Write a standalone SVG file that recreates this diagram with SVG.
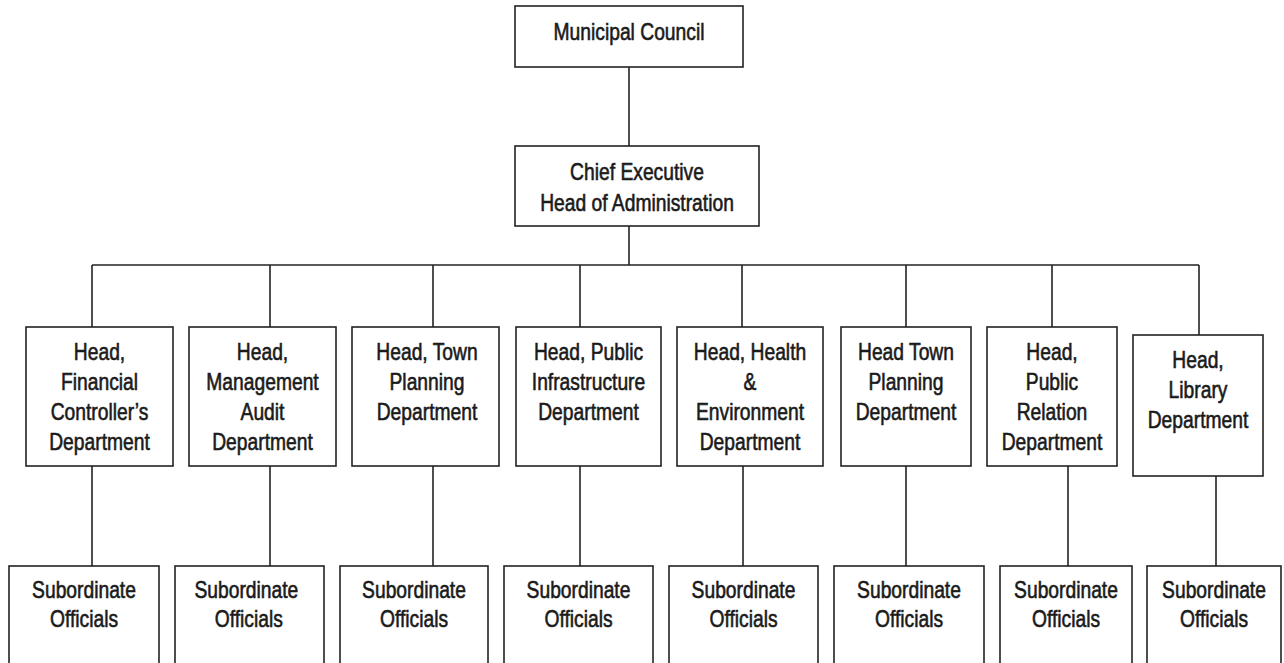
<svg xmlns="http://www.w3.org/2000/svg" width="1284" height="663" viewBox="0 0 1284 663">
<style>
.box{fill:#fff;stroke:#222;stroke-width:1.6}
line{stroke:#222;stroke-width:1.6}
text{font-family:"Liberation Sans",Arial,sans-serif;font-size:23.5px;fill:#1a1a1a;text-anchor:middle;stroke:#1a1a1a;stroke-width:0.6}
</style>
<rect width="1284" height="663" style="fill:#fff;stroke:none"/>
<g id="connectors">
<line x1="629" y1="67" x2="629" y2="146"/>
<line x1="629" y1="226" x2="629" y2="265"/>
<line x1="92" y1="265" x2="1199" y2="265"/>
<line x1="92" y1="265" x2="92" y2="327"/>
<line x1="270" y1="265" x2="270" y2="327"/>
<line x1="433" y1="265" x2="433" y2="327"/>
<line x1="580" y1="265" x2="580" y2="327"/>
<line x1="742" y1="265" x2="742" y2="327"/>
<line x1="906" y1="265" x2="906" y2="327"/>
<line x1="1052" y1="265" x2="1052" y2="327"/>
<line x1="1199" y1="265" x2="1199" y2="335"/>
<line x1="92" y1="466" x2="92" y2="566"/>
<line x1="270" y1="466" x2="270" y2="566"/>
<line x1="433" y1="466" x2="433" y2="566"/>
<line x1="580" y1="466" x2="580" y2="566"/>
<line x1="743" y1="466" x2="743" y2="566"/>
<line x1="906" y1="466" x2="906" y2="566"/>
<line x1="1068" y1="466" x2="1068" y2="566"/>
<line x1="1216" y1="476" x2="1216" y2="566"/>
</g>
<g id="council"><rect class="box" x="515" y="6" width="228" height="61"/><g transform="translate(629 0) scale(0.82 1)"><text x="0" y="40">Municipal Council</text></g></g>
<g id="chief"><rect class="box" x="515" y="146" width="244" height="80"/><g transform="translate(637 0) scale(0.82 1)"><text x="0" y="180">Chief Executive</text><text x="0" y="211">Head of Administration</text></g></g>
<g id="dept1"><rect class="box" x="26" y="327" width="147" height="139"/><g transform="translate(99.5 0) scale(0.82 1)"><text x="0" y="360">Head,</text><text x="0" y="390">Financial</text><text x="0" y="420">Controller’s</text><text x="0" y="450">Department</text></g></g>
<g id="dept2"><rect class="box" x="189" y="327" width="147" height="139"/><g transform="translate(262.5 0) scale(0.82 1)"><text x="0" y="360">Head,</text><text x="0" y="390">Management</text><text x="0" y="420">Audit</text><text x="0" y="450">Department</text></g></g>
<g id="dept3"><rect class="box" x="352" y="327" width="147" height="139"/><g transform="translate(427 0) scale(0.82 1)"><text x="0" y="360">Head, Town</text><text x="0" y="390">Planning</text><text x="0" y="420">Department</text></g></g>
<g id="dept4"><rect class="box" x="516" y="327" width="145" height="139"/><g transform="translate(588.5 0) scale(0.82 1)"><text x="0" y="360">Head, Public</text><text x="0" y="390">Infrastructure</text><text x="0" y="420">Department</text></g></g>
<g id="dept5"><rect class="box" x="677" y="327" width="146" height="139"/><g transform="translate(750 0) scale(0.82 1)"><text x="0" y="360">Head, Health</text><text x="0" y="390">&amp;</text><text x="0" y="420">Environment</text><text x="0" y="450">Department</text></g></g>
<g id="dept6"><rect class="box" x="841" y="327" width="130" height="139"/><g transform="translate(906 0) scale(0.82 1)"><text x="0" y="360">Head Town</text><text x="0" y="390">Planning</text><text x="0" y="420">Department</text></g></g>
<g id="dept7"><rect class="box" x="987" y="327" width="130" height="139"/><g transform="translate(1052 0) scale(0.82 1)"><text x="0" y="360">Head,</text><text x="0" y="390">Public</text><text x="0" y="420">Relation</text><text x="0" y="450">Department</text></g></g>
<g id="dept8"><rect class="box" x="1133" y="335" width="130" height="141"/><g transform="translate(1198 0) scale(0.82 1)"><text x="0" y="368">Head,</text><text x="0" y="398">Library</text><text x="0" y="428">Department</text></g></g>
<g id="sub1"><rect class="box" x="9" y="566" width="150" height="120"/><g transform="translate(84 0) scale(0.82 1)"><text x="0" y="598">Subordinate</text><text x="0" y="627">Officials</text></g></g>
<g id="sub2"><rect class="box" x="175" y="566" width="149" height="120"/><g transform="translate(248 0) scale(0.82 1)"><text x="-2" y="598">Subordinate</text><text x="1" y="627">Officials</text></g></g>
<g id="sub3"><rect class="box" x="340" y="566" width="148" height="120"/><g transform="translate(414 0) scale(0.82 1)"><text x="0" y="598">Subordinate</text><text x="0" y="627">Officials</text></g></g>
<g id="sub4"><rect class="box" x="504" y="566" width="149" height="120"/><g transform="translate(578.5 0) scale(0.82 1)"><text x="0" y="598">Subordinate</text><text x="0" y="627">Officials</text></g></g>
<g id="sub5"><rect class="box" x="669" y="566" width="149" height="120"/><g transform="translate(743.5 0) scale(0.82 1)"><text x="0" y="598">Subordinate</text><text x="0" y="627">Officials</text></g></g>
<g id="sub6"><rect class="box" x="834" y="566" width="150" height="120"/><g transform="translate(909 0) scale(0.82 1)"><text x="0" y="598">Subordinate</text><text x="0" y="627">Officials</text></g></g>
<g id="sub7"><rect class="box" x="1000" y="566" width="132" height="120"/><g transform="translate(1066 0) scale(0.82 1)"><text x="0" y="598">Subordinate</text><text x="0" y="627">Officials</text></g></g>
<g id="sub8"><rect class="box" x="1147" y="566" width="134" height="120"/><g transform="translate(1214 0) scale(0.82 1)"><text x="0" y="598">Subordinate</text><text x="0" y="627">Officials</text></g></g>
</svg>
